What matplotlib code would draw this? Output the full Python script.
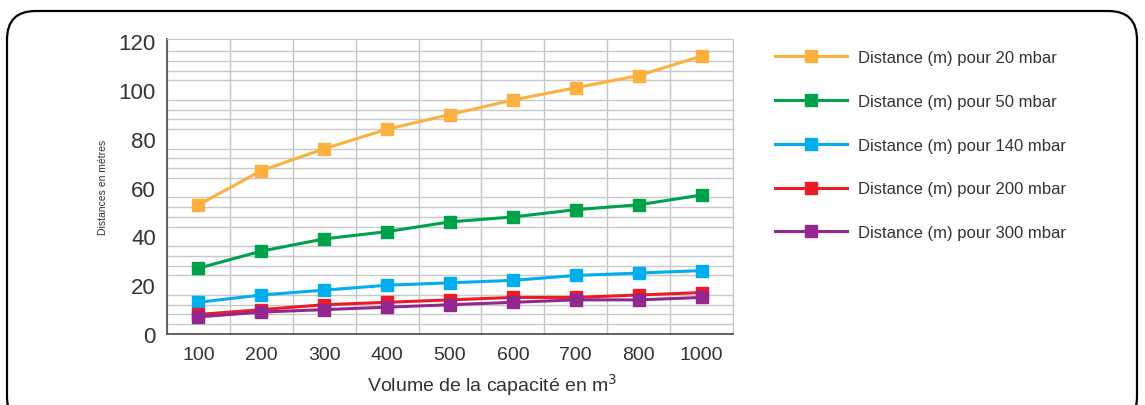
import numpy as np
import matplotlib.pyplot as plt
from matplotlib.patches import FancyBboxPatch

plt.rcParams['font.family'] = ['Liberation Sans', 'DejaVu Sans']

volumes = ['100', '200', '300', '400', '500', '600', '700', '800', '1000']
d20 = [53, 67, 76, 84, 90, 96, 101, 106, 114]
d50 = [27, 34, 39, 42, 46, 48, 51, 53, 57]
d140 = [13, 16, 18, 20, 21, 22, 24, 25, 26]
d200 = [8, 10, 12, 13, 14, 15, 15, 16, 17]
d300 = [7, 9, 10, 11, 12, 13, 14, 14, 15]

series = [(d20, 'Distance (m) pour 20 mbar', '#FBB040'),
          (d50, 'Distance (m) pour 50 mbar', '#00A14B'),
          (d140, 'Distance (m) pour 140 mbar', '#00AEEF'),
          (d200, 'Distance (m) pour 200 mbar', '#ED1C24'),
          (d300, 'Distance (m) pour 300 mbar', '#92278F')]

fig = plt.figure(figsize=(11.45, 4.06), dpi=100)
ax = fig.add_axes([167/1145, 1-335/406, (733-167)/1145, (335-40)/406])

x = np.arange(len(volumes))
for vals, lab, col in series:
    ax.plot(x, vals, color=col, lw=2.2, marker='s', ms=9, label=lab)

ax.set_xlim(-0.5, len(volumes)-0.5)
ax.set_ylim(0, 121)
ax.set_xticks(x)
ax.set_xticklabels(volumes)
ax.set_xticks(np.arange(len(volumes)+1)-0.5, minor=True)
ax.set_yticks(range(0, 121, 20))
ax.set_yticks(range(0, 121, 4), minor=True)
ax.tick_params(which='both', length=0)
ax.tick_params(axis='y', labelsize=16, pad=8, colors='#333333')
ax.tick_params(axis='x', labelsize=14, pad=9, colors='#333333')
ax.grid(False)
ax.grid(which='minor', axis='x', color='#c4c4c4', lw=1)
ax.grid(which='minor', axis='y', color='#c8c8c8', lw=1)
ax.set_axisbelow(True)
for s in ['top', 'right']:
    ax.spines[s].set_color('#c8c8c8')
for s in ['left', 'bottom']:
    ax.spines[s].set_color('#555555')
    ax.spines[s].set_linewidth(1.3)

ax.set_ylabel('Distances en métres', fontsize=7.5, color='#333333', labelpad=8)
fig.text(492/1145, 1-385/406, 'Volume de la capacité en m$^3$', fontsize=14,
         color='#333333', ha='center', va='center')

fig.legend(loc='upper left', bbox_to_anchor=(760/1145, 1-36/406), frameon=False,
           fontsize=12, handlelength=4.3, handletextpad=0.65, labelspacing=1.73,
           labelcolor='#333333')

fig.patches.append(FancyBboxPatch((7/1145, -0.05), 1130/1145, 1-12/406+0.05,
                                  boxstyle='round,pad=0,rounding_size=0.025',
                                  transform=fig.transFigure, fill=False,
                                  ec='black', lw=1.6, mutation_aspect=1145/406))

fig.savefig('out.png', dpi=100)
